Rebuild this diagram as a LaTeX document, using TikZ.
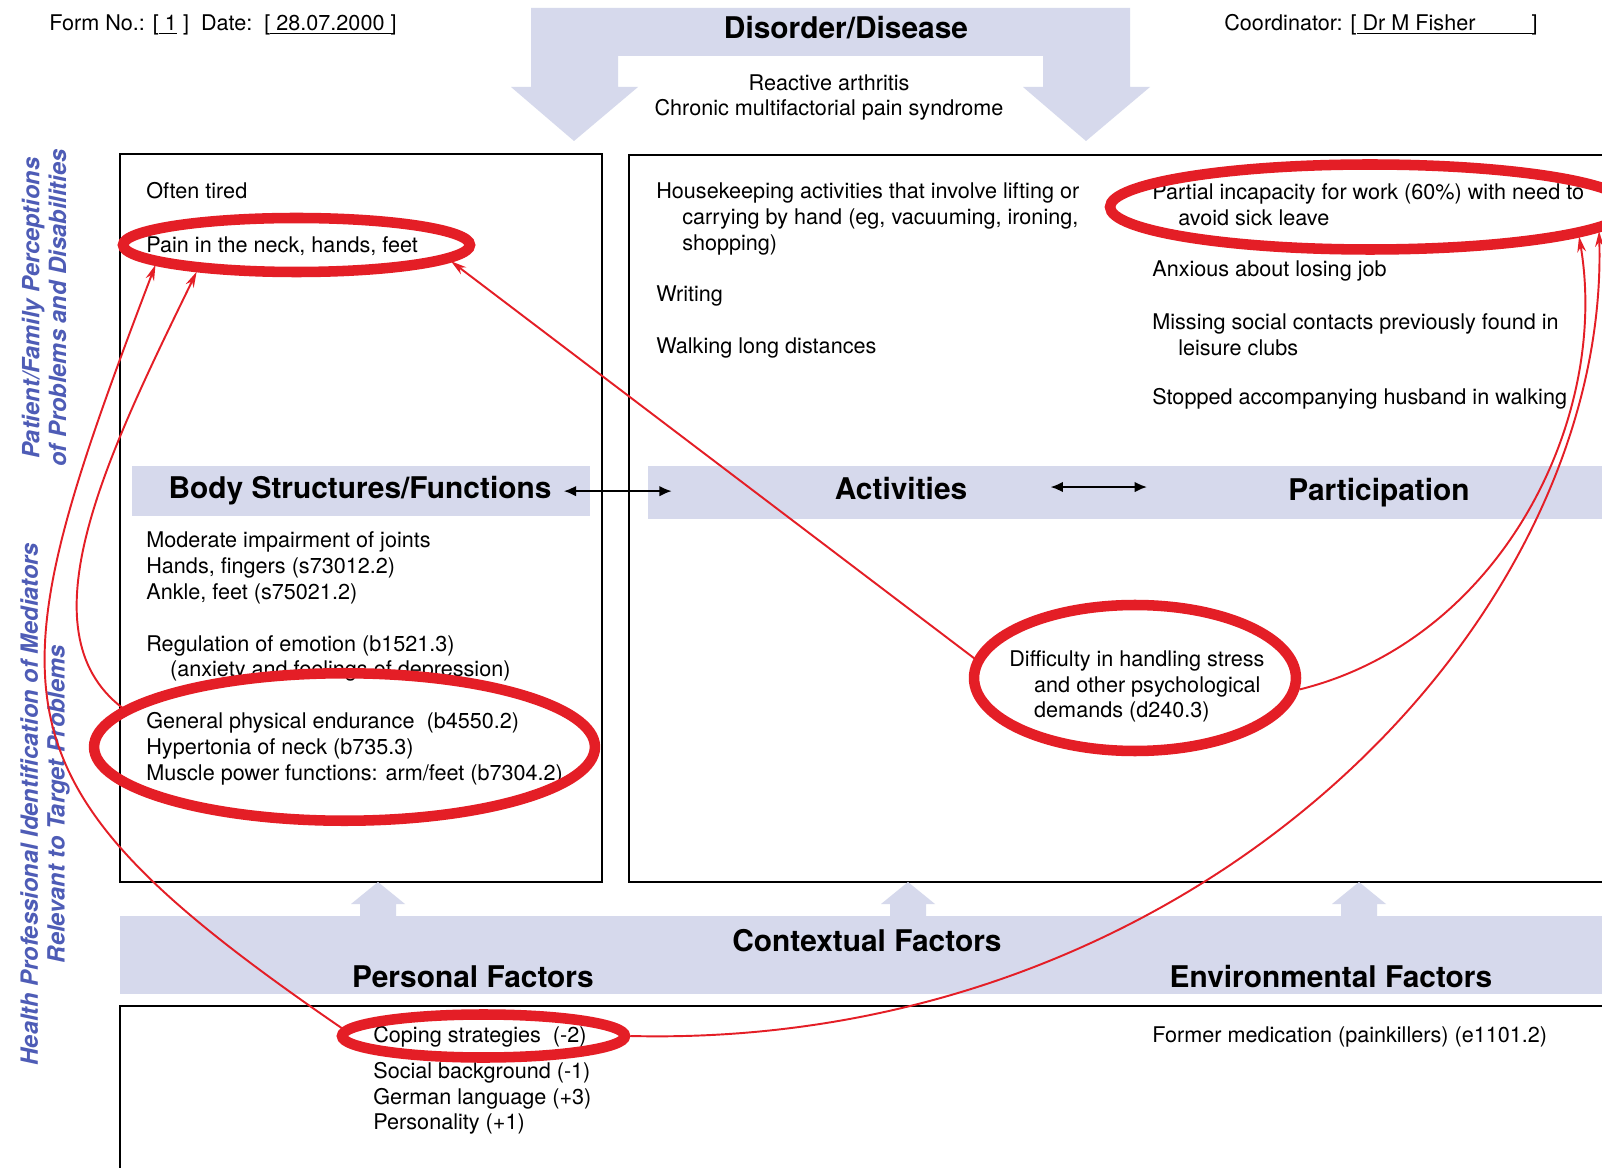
\documentclass[tikz,border=0pt]{standalone}
\usepackage{fontspec}
\setmainfont{TeX Gyre Heros}
\usetikzlibrary{arrows.meta,calc,shapes.geometric}
\definecolor{band}{RGB}{214,217,236}
\definecolor{ringred}{RGB}{228,30,38}
\definecolor{sideblue}{RGB}{78,92,182}
\def\bodyfont{\fontsize{12.3}{14.6}\selectfont}
\def\headfont{\fontsize{17}{20}\selectfont\bfseries}

\begin{document}
\begin{tikzpicture}[x=0.02cm,y=-0.02cm,
  txt/.style={inner sep=0pt,anchor=west,align=left,yshift=-1.1pt,font=\bodyfont},
  head/.style={inner sep=0pt,anchor=base,font=\headfont},
  side/.style={inner sep=0pt,rotate=90,align=center,text=sideblue,
    font=\fontsize{13.5}{15.2}\selectfont\bfseries\itshape},
  bandbox/.style={fill=band,inner sep=0pt,minimum width=#1},
  ring/.style={draw=ringred,line width=6pt,ellipse,inner sep=0pt},
  link/.style={draw=ringred,line width=1.1pt,-{Stealth[length=9pt,width=5pt]}},
  both/.style={line width=1.1pt,{Latex[length=7pt,width=6pt]}-{Latex[length=7pt,width=6pt]}}]
  \useasboundingbox (0,0) rectangle (1602,1168);
  \fill[white] (0,0) rectangle (1602,1168);

  % header
  \node[txt] (formno) at (49,23) {Form No.: [\underline{\ 1}\ ]\ \ Date:\ \ [\underline{\ 28.07.2000\ }]};
  \node[txt] (coord) at (1224,23) {Coordinator: [\underline{\ Dr M Fisher\hspace{2.6em}}]};

  % disorder band
  \fill[band] (531,8) -- (1130,8) -- (1130,87) -- (1150,87) -- (1086,141) -- (1023,87)
    -- (1043,87) -- (1043,56) -- (618,56) -- (618,87) -- (638,87) -- (574,141)
    -- (511,87) -- (531,87) -- cycle;
  \node[head] (distitle) at (846,38.5) {Disorder/Disease};
  \node[txt,anchor=center,align=center] (disorder) at (829,95.5) {Reactive arthritis\\Chronic multifactorial pain syndrome};

  % side labels
  \node[side] (sidetop) at (44,308) {Patient/Family Perceptions\\of Problems and Disabilities};
  \node[side] (sidebot) at (45,804) {Health Professional Identification of Mediators\\Relevant to Target Problems};

  % boxes
  \draw[line width=1pt] (120,154) rectangle (602,882);
  \draw[line width=1pt] (1602,155) -- (629,155) -- (629,882) -- (1602,882);
  \draw[line width=1pt] (1602,1006) -- (120,1006) -- (120,1168);

  % bands
  \node[bandbox=9.16cm,minimum height=1cm] (bsband) at (361,491) {};
  \node[bandbox=19.08cm,minimum height=1.06cm] (actband) at (1125,492.5) {};
  \node[bandbox=29.64cm,minimum height=1.56cm] (ctxband) at (861,955) {};
  \foreach \ux in {378,908,1359}
    \fill[band] (\ux-18,917) -- (\ux-18,904) -- (\ux-27,904) -- (\ux,882)
      -- (\ux+27,904) -- (\ux+18,904) -- (\ux+18,917) -- cycle;

  \node[head] (bstitle) at (360,499) {Body Structures/Functions};
  \node[head] (acttitle) at (901,500) {Activities};
  \node[head] (parttitle) at (1379,501) {Participation};
  \node[head] (ctxtitle) at (867,951) {Contextual Factors};
  \node[head] (perstitle) at (473,987.5) {Personal Factors};
  \node[head] (envtitle) at (1331,987.5) {Environmental Factors};
  \draw[both] ($(bstitle.east)+(12,0)$) -- ($(actband.west |- bstitle.east)+(24,0)$);
  \draw[both] ($(acttitle.east)+(83,-2)$) -- ($(parttitle.west |- acttitle.east)+(-141,-2)$);

  % body structures and functions
  \node[txt] (tired) at (146,189) {Often tired};
  \node[txt] (pain) at (146,244) {Pain in the neck, hands, feet};
  \node[txt] (joints) at (146,566) {Moderate impairment of joints\\Hands, fingers (s73012.2)\\Ankle, feet (s75021.2)};
  \node[txt] (emotion) at (146,656.5) {Regulation of emotion (b1521.3)\\\hspace*{1.1em}(anxiety and feelings of depression)};
  \node[txt] (endure) at (146,747) {General physical endurance\ \ (b4550.2)\\Hypertonia of neck (b735.3)\\Muscle power functions: arm/feet (b7304.2)};

  % activities
  \node[txt] (house) at (656,217) {Housekeeping activities that involve lifting or\\\hspace*{1.2em}carrying by hand (eg, vacuuming, ironing,\\\hspace*{1.2em}shopping)};
  \node[txt] (writing) at (656,294) {Writing};
  \node[txt] (walking) at (656,346) {Walking long distances};

  % participation
  \node[txt] (partial) at (1152,203) {Partial incapacity for work (60\%) with need to\\\hspace*{1.2em}avoid sick leave};
  \node[txt] (anxious) at (1152,269) {Anxious about losing job};
  \node[txt] (missing) at (1152,332.5) {Missing social contacts previously found in\\\hspace*{1.2em}leisure clubs};
  \node[txt] (stopped) at (1152,397) {Stopped accompanying husband in walking};
  \node[txt] (difftext) at (1009,684.5) {Difficulty in handling stress\\\hspace*{1.15em}and other psychological\\\hspace*{1.15em}demands (d240.3)};

  % contextual factors
  \node[txt] (coping) at (373,1035) {Coping strategies\ \ (-2)};
  \node[txt] (social) at (373,1096.5) {Social background (-1)\\German language (+3)\\Personality (+1)};
  \node[txt] (medic) at (1152,1035) {Former medication (painkillers) (e1101.2)};

  % red marks
  \node[ring,minimum width=6.94cm,minimum height=1.08cm] (painring) at (296.5,245) {};
  \node[ring,minimum width=10.02cm,minimum height=2.95cm] (bodyring) at (344.5,747) {};
  \node[ring,minimum width=10.4cm,minimum height=1.7cm] (partring) at (1370,207) {};
  \node[ring,minimum width=6.44cm,minimum height=2.92cm] (diffring) at (1135,678) {};
  \node[ring,minimum width=5.66cm,minimum height=0.86cm] (copering) at (483.5,1036) {};

  \draw[link] (diffring.173) -- (painring.-6);
  \draw[link] (bodyring.170) .. controls (20,630) and (110,450) .. (painring.195);
  \draw[link] (copering.177) .. controls (-20,780) and (-10,700) .. (painring.188);
  \draw[link] (diffring.-4) .. controls (1500,640) and (1610,420) .. (partring.-8);
  \draw[link] (copering.east) .. controls (1200,1050) and (1610,620) .. (partring.-6.5);
\end{tikzpicture}
\end{document}
